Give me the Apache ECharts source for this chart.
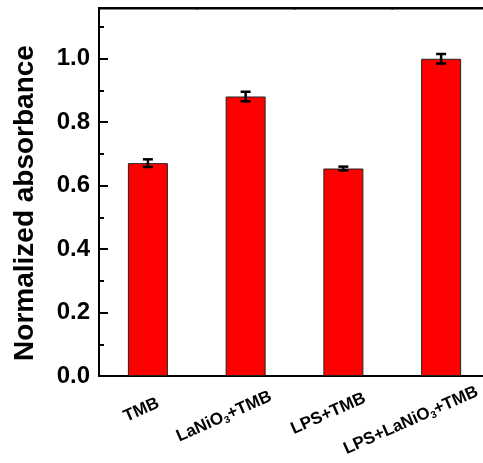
<!DOCTYPE html>
<html>
<head>
<meta charset="utf-8">
<script src="https://cdn.jsdelivr.net/npm/echarts@6/dist/echarts.min.js"></script>
<style>
  html, body { margin: 0; padding: 0; background: #fff; }
</style>
</head>
<body>
<div id="main" style="width: 483px;height:463px;"></div>
<script>
const categories = ['TMB', 'LaNiO3+TMB', 'LPS+TMB', 'LPS+LaNiO3+TMB']
const values = [0.671, 0.881, 0.654, 1.0]
const errors = [0.012, 0.015, 0.006, 0.015]
const yTicks = [0, 0.2, 0.4, 0.6, 0.8, 1.0]
const yMax = 1.16

const font = 'Liberation Sans, Arial, sans-serif'

const errData = values.map((v, i) => [i, v - errors[i], v + errors[i]])

const option = {
  animation: false,
  grid: {
    left: 99,
    top: 8,
    right: -7,
    bottom: 87,
    outerBoundsMode: 'none',
    containLabel: false
  },
  xAxis: {
    type: 'category',
    data: categories,
    axisLine: { lineStyle: { color: '#000', width: 2 } },
    axisTick: { alignWithLabel: true, length: 6, lineStyle: { color: '#000', width: 2 } },
    axisLabel: {
      rotate: 24,
      margin: 31,
      align: 'center',
      verticalAlign: 'middle',
      color: '#000',
      fontFamily: font,
      fontWeight: 'bold',
      fontSize: 17,
      interval: 0,
      formatter: function (v) {
        // trailing spaces push longer labels further left, like the original
        return v.replace('O3', 'O{sub|3}') + ' '.repeat(v.length)
      },
      rich: {
        sub: {
          fontSize: 10,
          fontWeight: 'bold',
          fontFamily: font,
          color: '#000',
          verticalAlign: 'bottom',
          padding: [9, 0, 0, 0]
        }
      }
    }
  },
  yAxis: [
    {
      type: 'value',
      min: 0,
      max: yMax,
      interval: 0.2,
      name: 'Normalized absorbance',
      nameLocation: 'middle',
      nameGap: 60,
      nameTextStyle: {
        color: '#000',
        fontFamily: font,
        fontWeight: 'bold',
        fontSize: 28,
        padding: [0, 22, 0, 0]
      },
      splitLine: { show: false },
      axisLine: { show: true, lineStyle: { color: '#000', width: 2 } },
      axisTick: { show: true, inside: true, length: 9, lineStyle: { color: '#000', width: 2 } },
      minorTick: { show: true, splitNumber: 2, length: 5, lineStyle: { color: '#000', width: 2 } },
      minorSplitLine: { show: false },
      axisLabel: {
        margin: 9,
        color: '#000',
        fontFamily: font,
        fontWeight: 'bold',
        fontSize: 24,
        showMaxLabel: false,
        formatter: function (v) {
          return yTicks.some(t => Math.abs(t - v) < 1e-6) ? v.toFixed(1) : ''
        }
      }
    }
  ],
  series: [
    {
      type: 'bar',
      data: values,
      barWidth: 40,
      itemStyle: { color: '#ff0000', borderColor: '#222', borderWidth: 1 }
    },
    {
      type: 'custom',
      data: errData,
      z: 10,
      renderItem: function (params, api) {
        const x = api.value(0)
        const lo = api.coord([x, api.value(1)])
        const hi = api.coord([x, api.value(2)])
        const w = 5
        const style = { stroke: '#000', lineWidth: 2.5 }
        return {
          type: 'group',
          children: [
            { type: 'line', shape: { x1: lo[0], y1: lo[1], x2: hi[0], y2: hi[1] }, style: style },
            { type: 'line', shape: { x1: lo[0] - w, y1: lo[1], x2: lo[0] + w, y2: lo[1] }, style: style },
            { type: 'line', shape: { x1: hi[0] - w, y1: hi[1], x2: hi[0] + w, y2: hi[1] }, style: style }
          ]
        }
      }
    },
    {
      // top frame line of the plot box, one segment per category band
      type: 'custom',
      data: categories.map((c, i) => [i, yMax]),
      z: 20,
      clip: false,
      silent: true,
      renderItem: function (params, api) {
        const p = api.coord([api.value(0), api.value(1)])
        const half = api.size([1, 0])[0] / 2
        return {
          type: 'rect',
          shape: { x: p[0] - half - 1, y: p[1] - 1, width: 2 * half + 2, height: 2.5 },
          style: { fill: '#000' }
        }
      }
    }
  ]
}

echarts.init(document.getElementById('main')).setOption(option)
</script>
</body>
</html>
